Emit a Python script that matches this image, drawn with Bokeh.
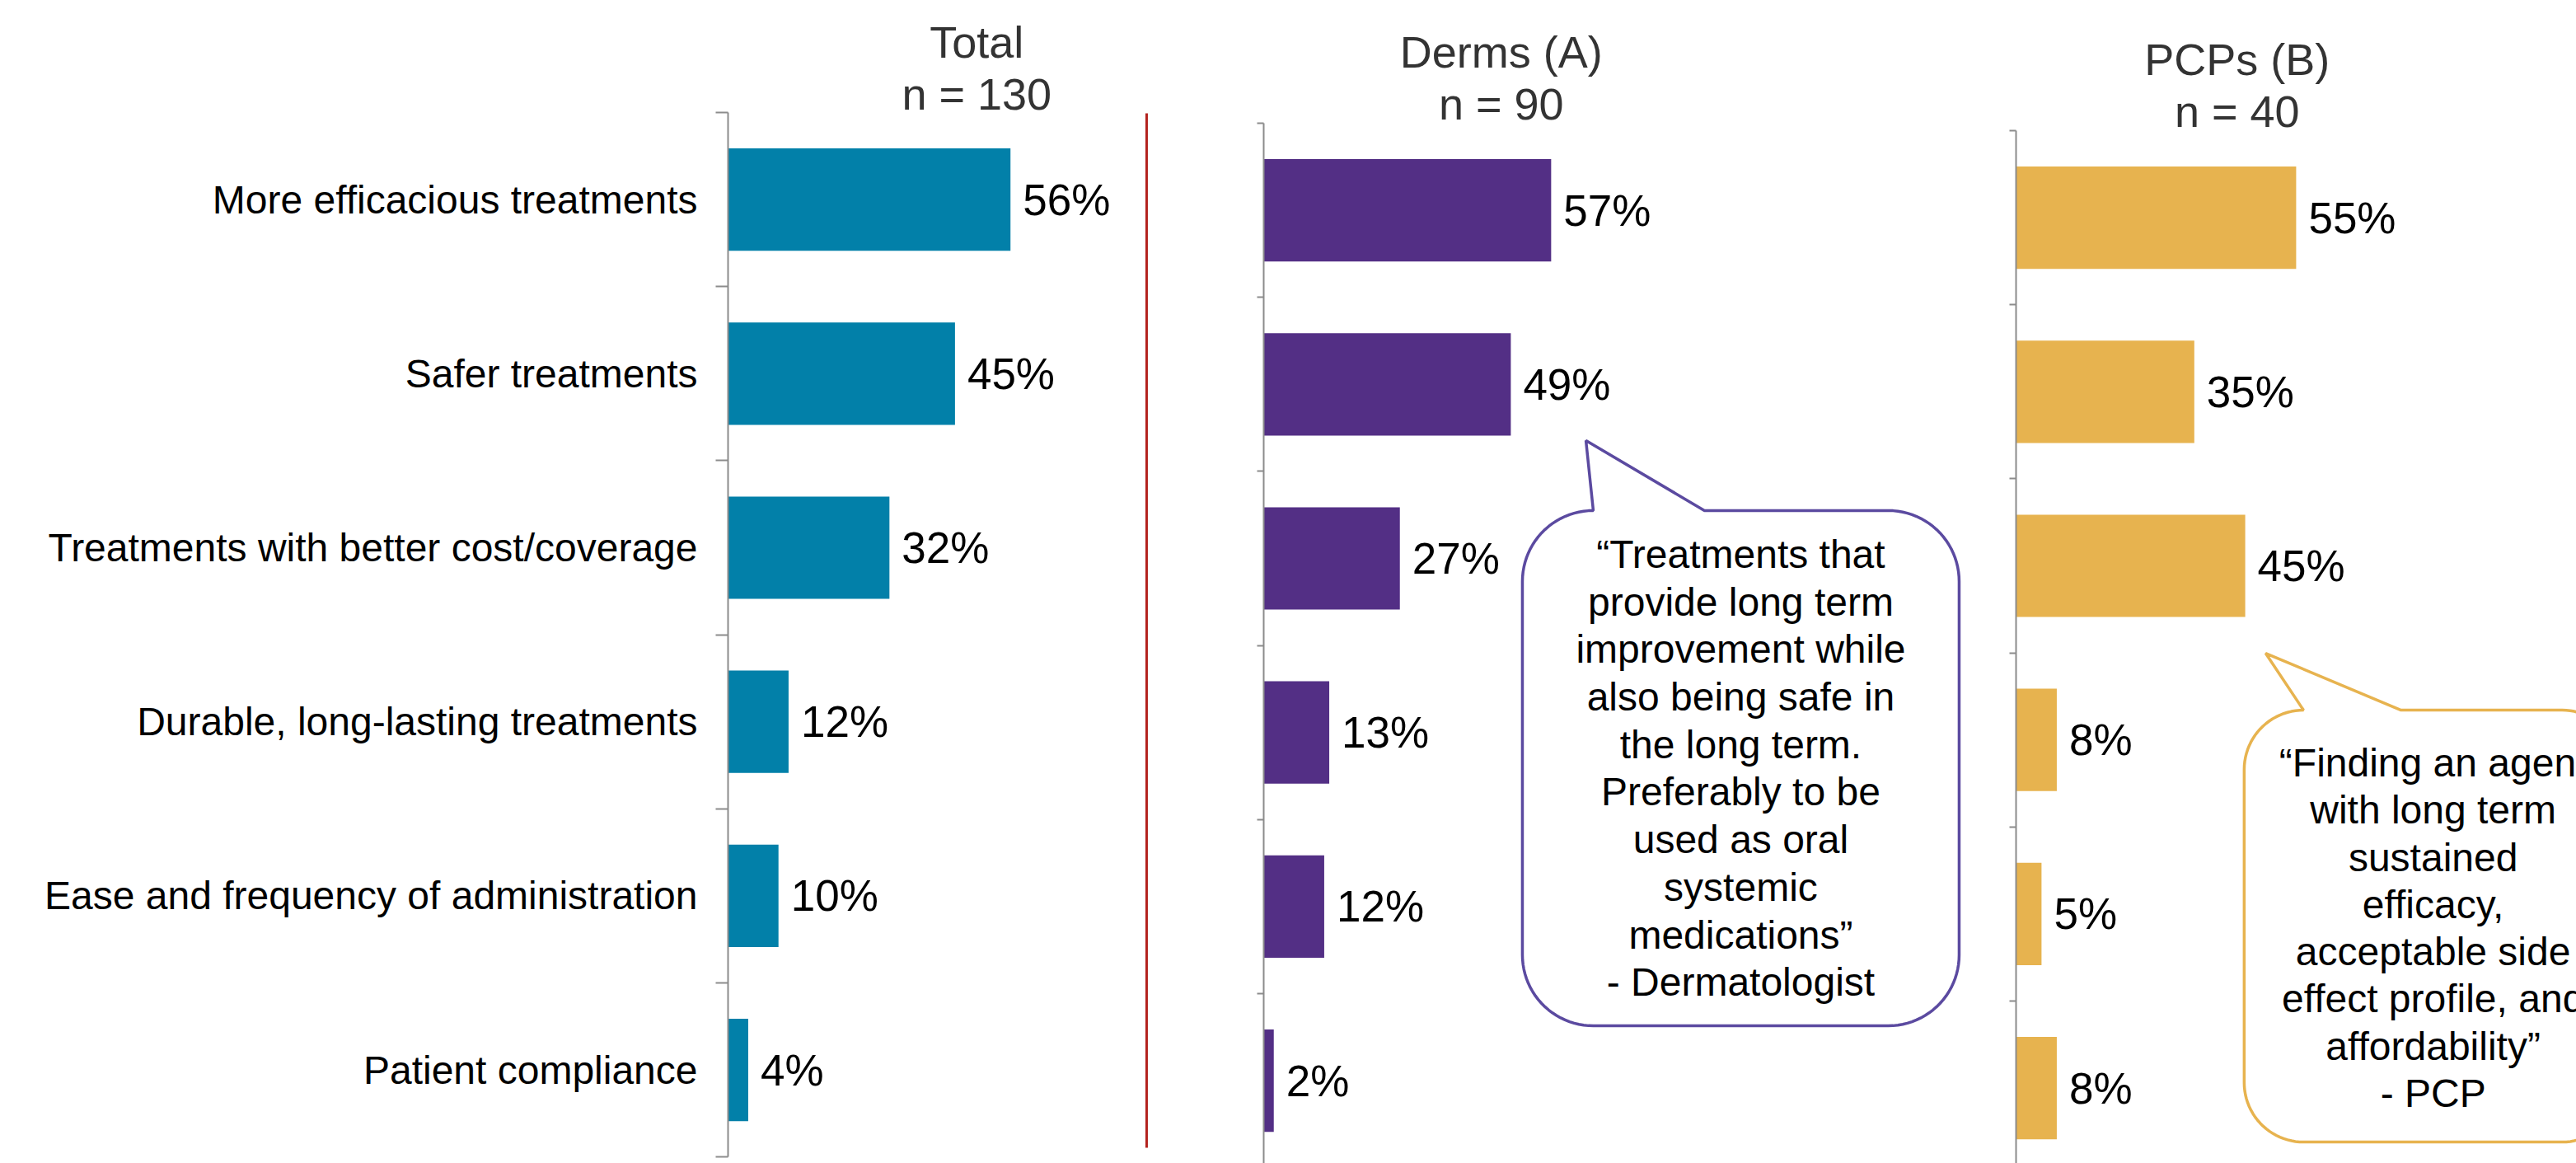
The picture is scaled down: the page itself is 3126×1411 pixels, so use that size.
import numpy as np
from bokeh.plotting import figure
from bokeh.layouts import row
from bokeh.models import Range1d, FixedTicker
from bokeh.core.properties import value
from bokeh.embed import file_html
from bokeh.resources import INLINE

# ---------------- data ----------------
categories = [
    "More efficacious treatments",
    "Safer treatments",
    "Treatments with better cost/coverage",
    "Durable, long-lasting treatments",
    "Ease and frequency of administration",
    "Patient compliance",
]
total_vals = [56, 45, 32, 12, 10, 4]
derms_vals = [57, 49, 27, 13, 12, 2]
pcps_vals = [55, 35, 45, 8, 5, 8]
panel_titles = ["Total", "Derms (A)", "PCPs (B)"]
panel_ns = ["n = 130", "n = 90", "n = 40"]
derm_quote = [
    "\u201cTreatments that",
    "provide long term",
    "improvement while",
    "also being safe in",
    "the long term.",
    "Preferably to be",
    "used as oral",
    "systemic",
    "medications\u201d",
    "- Dermatologist",
]
pcp_quote = [
    "\u201cFinding an agent",
    "with long term",
    "sustained",
    "efficacy,",
    "acceptable side",
    "effect profile, and",
    "affordability\u201d",
    "- PCP",
]

# ---------------- styling ----------------
FONT = "Liberation Sans"
C_TOTAL = "#0280A9"
C_DERMS = "#532F85"
C_PCPS = "#E7B34F"
C_QUOTE_D = "#5B4AA0"
C_AXIS = "#8C8C8C"
C_DIV = "#B3221E"
PAGE_H = 1411
UNIT_PX = 211.2  # pixels per category slot
BAR_H = 0.588
idx = list(range(1, len(categories) + 1))


def make_panel(vals, color, left_border, frame_w, axis_top_px, px_pct, tick_len, with_labels):
    x_end = frame_w / px_pct
    y_top = 0.5 - axis_top_px / UNIT_PX
    y_bot = 0.5 + (PAGE_H - axis_top_px) / UNIT_PX
    p = figure(
        frame_width=frame_w, frame_height=PAGE_H,
        x_range=Range1d(0, x_end), y_range=Range1d(y_bot, y_top),
        output_backend="svg", toolbar_location=None, x_axis_location=None,
        title=None,
        min_border_left=left_border, min_border_right=0,
        min_border_top=0, min_border_bottom=0,
        background_fill_color="white", border_fill_color="white",
    )
    p.outline_line_color = None
    p.xgrid.visible = False
    p.ygrid.visible = False
    ax = p.yaxis[0]
    ax.bounds = (0.5, len(categories) + 0.5)
    ax.axis_line_color = C_AXIS
    ax.axis_line_width = 2
    bounds = [i + 0.5 for i in range(0, len(categories) + 1)]
    if with_labels:
        ax.ticker = FixedTicker(ticks=idx, minor_ticks=bounds)
        ax.major_label_overrides = {i: c for i, c in zip(idx, categories)}
        ax.major_tick_out = 0
        ax.major_tick_in = 0
        ax.minor_tick_out = tick_len
        ax.minor_tick_in = 0
        ax.minor_tick_line_color = C_AXIS
        ax.minor_tick_line_width = 2
        ax.major_label_standoff = 22
        ax.major_label_text_font = FONT
        ax.major_label_text_font_size = "48px"
        ax.major_label_text_color = "black"
    else:
        ax.ticker = FixedTicker(ticks=bounds, minor_ticks=[])
        ax.major_tick_out = tick_len
        ax.major_tick_in = 0
        ax.major_tick_line_color = C_AXIS
        ax.major_tick_line_width = 2
        ax.minor_tick_line_color = None
        ax.major_label_text_font_size = "0px"
        ax.major_label_text_color = None
        ax.major_label_standoff = 0
    p.hbar(y=idx, left=0, right=vals, height=BAR_H, fill_color=color, line_color=None)
    p.text(x=vals, y=idx, text=[f"{v}%" for v in vals], x_offset=15,
           text_align="left", text_baseline="middle",
           text_font=value(FONT), text_font_size="53px", text_color="black")
    return p


def add_title(p, title, n, x, y1, y2):
    p.text(x=[x, x], y=[y1, y2], text=[title, n], text_align="center",
           text_baseline="middle", text_font=value(FONT),
           text_font_size="54px", text_color="#333333")


def callout(p, x0, x1, y0, y1, r_px, tip, base_b, px_pct, color, lines, tx, ty0, dy):
    rx = r_px / px_pct
    ry = r_px / UNIT_PX
    xs, ys = [base_b], [y0]

    def arc(cx, cy, a0, a1):
        t = np.linspace(a0, a1, 24)
        xs.extend(cx + rx * np.cos(t))
        ys.extend(cy + ry * np.sin(t))

    arc(x1 - rx, y0 + ry, -np.pi / 2, 0)
    arc(x1 - rx, y1 - ry, 0, np.pi / 2)
    arc(x0 + rx, y1 - ry, np.pi / 2, np.pi)
    arc(x0 + rx, y0 + ry, np.pi, 1.5 * np.pi)
    xs.extend([tip[0], base_b])
    ys.extend([tip[1], y0])
    p.patch(xs, ys, fill_color="white", line_color=color, line_width=3.5)
    p.text(x=[tx] * len(lines), y=[ty0 + i * dy for i in range(len(lines))], text=lines,
           text_align="center", text_baseline="middle",
           text_font=value(FONT), text_font_size="48px", text_color="black")


# Total panel (axis at x=883, top at y=136)
pt = make_panel(total_vals, C_TOTAL, 883, 577, 136, 6.12, 15, True)
add_title(pt, panel_titles[0], panel_ns[0], 49.3, 0.0975, 0.3935)
pt.segment(x0=[83.0], y0=[0.505], x1=[83.0], y1=[6.447], line_color=C_DIV, line_width=3)

# Derms panel (axis at x=1533, top at y=149)
pd_ = make_panel(derms_vals, C_DERMS, 73, 905, 149, 6.12, 8, False)
add_title(pd_, panel_titles[1], panel_ns[1], 47.1, 0.0928, 0.3864)
callout(pd_, 51.3, 137.9, 2.725, 5.685, 86, (63.9, 2.323), 87.4, 6.12, C_QUOTE_D,
        derm_quote, 94.6, 2.976, 0.2732)

# PCPs panel (axis at x=2446, top at y=158)
pp = make_panel(pcps_vals, C_PCPS, 8, 680, 158, 6.18, 8, False)
add_title(pp, panel_titles[2], panel_ns[2], 43.4, 0.0928, 0.3864)
callout(pp, 44.8, 118.9, 3.829, 6.310, 72, (49.0, 3.502), 75.6, 6.18, C_PCPS,
        pcp_quote, 81.9, 4.1316, 0.2713)

layout = row(pt, pd_, pp, spacing=0)
open("out.html", "w").write(file_html(layout, INLINE))
